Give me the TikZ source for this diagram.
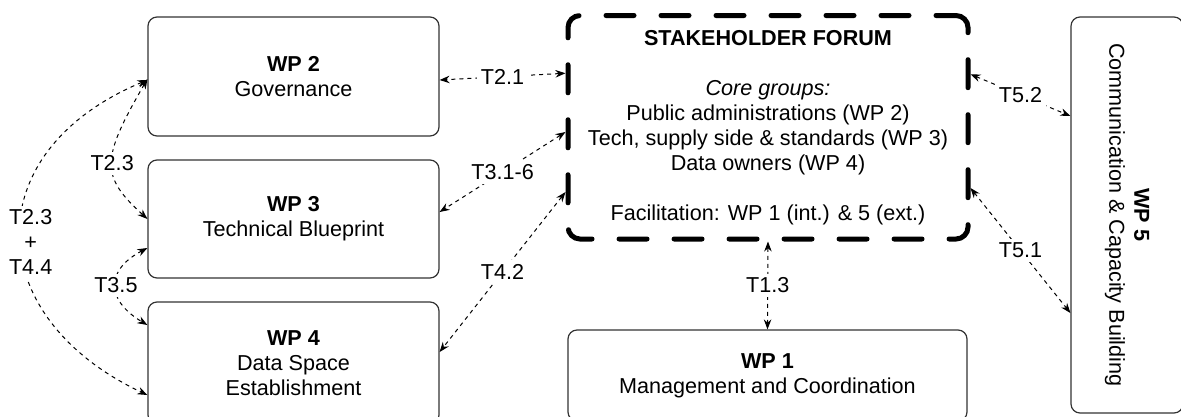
\documentclass[tikz,border=0pt]{standalone}
\usepackage{fontspec}
\setmainfont{Liberation Sans}
\usetikzlibrary{arrows.meta,calc}
\begin{document}
\begin{tikzpicture}[x=1pt,y=-1pt,
  font=\fontsize{21.6}{25}\selectfont,
  wpbox/.style={draw=black!80, line width=1.2pt, rounded corners=9pt, align=center, inner sep=0pt},
  forumbox/.style={draw=black, line width=5pt, dash pattern=on 28pt off 27pt, dash phase=8pt, line cap=round, rounded corners=12pt, align=center, inner sep=0pt},
  link/.style={line width=1pt, dash pattern=on 4pt off 4pt, {Stealth[length=10pt,width=7.5pt]}-{Stealth[length=10pt,width=7.5pt]}},
  lbl/.style={fill=white, inner sep=4pt, align=center}
]
\useasboundingbox (0,0) rectangle (1181,416);

\node[wpbox, minimum width=291pt, minimum height=119pt] (wp2) at (293.5,76.5) {\textbf{WP 2}\\Governance};
\node[wpbox, minimum width=291pt, minimum height=118pt] (wp3) at (293.5,219) {\textbf{WP 3}\\Technical Blueprint};
\node[wpbox, minimum width=291pt, minimum height=122pt] (wp4) at (293.5,363) {\textbf{WP 4}\\Data Space\\Establishment};
\node[wpbox, minimum width=399pt, minimum height=91pt] (wp1) at (767.5,375.5) {\textbf{WP 1}\\Management and Coordination};
\node[wpbox, minimum width=112pt, minimum height=396pt] (wp5) at (1127,215) {};
\node[rotate=-90, align=center, inner sep=0pt] (wp5t) at (wp5.center) {\textbf{WP 5}\\Communication \& Capacity Building};

\node[forumbox, minimum width=400pt, minimum height=223.5pt] (forum) at (768,127.25)
  {\textbf{STAKEHOLDER FORUM}\\[25pt]\textit{Core groups:}\\Public administrations (WP 2)\\Tech, supply side \& standards (WP 3)\\Data owners (WP 4)\\[25pt]Facilitation: WP 1 (int.) \& 5 (ext.)};

\draw[link] ([yshift=54pt]forum.west) -- node[lbl]{T2.1} ([yshift=-3.5pt]wp2.east);
\draw[link] ([yshift=-4.75pt]forum.west) -- node[lbl]{T3.1-6} ([yshift=7pt]wp3.east);
\draw[link] ([yshift=-64.75pt]forum.west) -- node[lbl]{T4.2} ([yshift=11pt]wp4.east);
\draw[link] (forum.south) -- node[lbl]{T1.3} (wp1.north);
\draw[link] ([yshift=53pt]forum.east) -- node[lbl]{T5.2} ([yshift=99pt]wp5.west);
\draw[link] ([yshift=-60.75pt]forum.east) -- node[lbl]{T5.1} ([yshift=-98pt]wp5.west);

\draw[link] ([yshift=-2.5pt]wp2.west) .. controls +(-47,81) and +(-47,-43) .. node[lbl,pos=0.5]{T2.3} (wp3.west);
\draw[link] ([yshift=-29pt]wp3.west) .. controls +(-42,22) and +(-42,-25) .. node[lbl,pos=0.5]{T3.5} ([yshift=38pt]wp4.west);
\draw[link] ([yshift=-3.5pt]wp2.west) .. controls +(-172,72) and +(-166,-78) .. node[lbl,pos=0.5,xshift=10pt,yshift=-7pt]{T2.3\\+\\T4.4} ([yshift=-32pt]wp4.west);
\end{tikzpicture}
\end{document}
